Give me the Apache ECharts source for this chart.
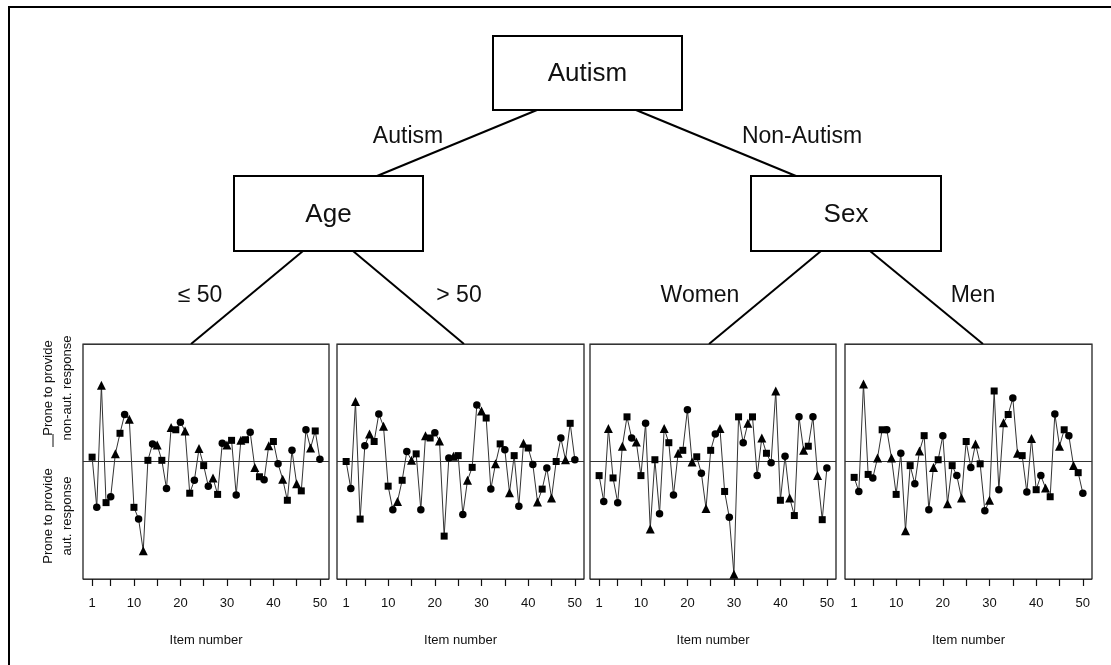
<!DOCTYPE html>
<html>
<head>
<meta charset="utf-8">
<script src="https://cdn.jsdelivr.net/npm/echarts@6/dist/echarts.min.js"></script>
<style>
html,body{margin:0;padding:0;background:#fff;}
#main{width:1111px;height:665px;}
</style>
</head>
<body>
<div id="main"></div>
<script>
// ---- data ----
const panelNames = ['≤ 50', '> 50', 'Women', 'Men'];
const treeNodes = ['Autism', 'Age', 'Sex'];
const branchLabels = ['Autism', 'Non-Autism'];
const tickValues = [1, 5, 10, 15, 20, 25, 30, 35, 40, 45, 50];
const tickLabels = [1, 10, 20, 30, 40, 50];
const axisTitle = 'Item number';
const yUpper = ['Prone to provide', 'non-aut. response'];
const yLower = ['Prone to provide', 'aut. response'];

const age50 = [0.37, -3.9, 6.5, -3.5, -3.0, 0.65, 2.4, 4.0, 3.6, -3.9,
  -4.9, -7.6, 0.1, 1.5, 1.4, 0.1, -2.3, 2.9, 2.7, 3.35,
  2.6, -2.7, -1.6, 1.1, -0.35, -2.1, -1.4, -2.8, 1.55, 1.4,
  1.8, -2.85, 1.8, 1.85, 2.5, -0.5, -1.3, -1.55, 1.35, 1.7,
  -0.2, -1.5, -3.3, 0.95, -1.9, -2.5, 2.7, 1.15, 2.6, 0.2];
const ageOver50 = [0.0, -2.3, 5.1, -4.9, 1.35, 2.35, 1.7, 4.05, 3.0, -2.1,
  -4.1, -3.4, -1.6, 0.85, 0.1, 0.65, -4.1, 2.2, 2.0, 2.45,
  1.75, -6.35, 0.3, 0.45, 0.5, -4.5, -1.6, -0.5, 4.8, 4.3,
  3.7, -2.35, -0.2, 1.5, 1.0, -2.65, 0.5, -3.8, 1.55, 1.15,
  -0.25, -3.45, -2.35, -0.55, -3.1, 0.0, 2.0, 0.15, 3.25, 0.15];
const women = [-1.2, -3.4, 2.8, -1.4, -3.5, 1.3, 3.8, 2.0, 1.65, -1.2,
  3.25, -5.75, 0.15, -4.45, 2.8, 1.6, -2.85, 0.7, 0.95, 4.4,
  -0.05, 0.4, -1.0, -4.0, 0.95, 2.35, 2.8, -2.55, -4.75, -9.6,
  3.8, 1.6, 3.25, 3.8, -1.2, 2.0, 0.7, -0.1, 6.0, -3.3,
  0.45, -3.1, -4.6, 3.8, 0.95, 1.3, 3.8, -1.2, -4.95, -0.55];
const men = [-1.35, -2.55, 6.6, -1.1, -1.4, 0.3, 2.7, 2.7, 0.3, -2.8,
  0.7, -5.9, -0.35, -1.9, 0.9, 2.2, -4.1, -0.5, 0.15, 2.2,
  -3.6, -0.35, -1.2, -3.1, 1.7, -0.5, 1.5, -0.2, -4.2, -3.3,
  6.0, -2.4, 3.3, 4.0, 5.4, 0.7, 0.5, -2.6, 1.95, -2.4,
  -1.2, -2.25, -3.0, 4.05, 1.3, 2.7, 2.2, -0.35, -0.95, -2.7];
const panelValues = [age50, ageOver50, women, men];

// ---- layout ----
const panelLeft = [83, 337, 590, 845];
const panelWidth = [246, 247, 246, 247];
const panelTop = 344, panelHeight = 235;
const shapeCycle = ['rect', 'circle', 'triangle'];
const sizeCycle = [7, 7.5, 9];
const FONT = '"Liberation Sans", Arial, Helvetica, sans-serif';

const grids = [], xAxes = [], yAxes = [], series = [];
panelValues.forEach((vals, k) => {
  grids.push({left: panelLeft[k], top: panelTop, width: panelWidth[k], height: panelHeight,
    show: true, borderColor: '#111', borderWidth: 1.2, backgroundColor: 'transparent', containLabel: false});
  xAxes.push({type: 'value', gridIndex: k, min: -0.96, max: 51.96, position: 'bottom',
    axisLine: {show: false, onZero: false},
    axisTick: {show: true, inside: false, length: 7, customValues: tickValues, lineStyle: {color: '#111', width: 1.2}},
    axisLabel: {show: true, customValues: tickLabels, margin: 18, color: '#111', fontSize: 13, fontFamily: FONT},
    splitLine: {show: false},
    name: axisTitle, nameLocation: 'middle', nameGap: 55,
    nameTextStyle: {color: '#111', fontSize: 13, fontFamily: FONT}});
  yAxes.push({type: 'value', gridIndex: k, min: -10, max: 10, interval: 10,
    axisLine: {show: false}, axisTick: {show: false}, axisLabel: {show: false},
    splitLine: {show: true, lineStyle: {color: '#333', width: 1.2}}});
  series.push({type: 'line', xAxisIndex: k, yAxisIndex: k,
    data: vals.map((v, i) => [i + 1, v]),
    symbol: (v, p) => shapeCycle[p.dataIndex % 3],
    symbolSize: (v, p) => sizeCycle[p.dataIndex % 3],
    showAllSymbol: true,
    lineStyle: {color: '#333', width: 1},
    itemStyle: {color: '#000', borderWidth: 0},
    emphasis: {disabled: true}, silent: true, animation: false});
});

// ---- tree diagram ----
const stroke = {stroke: '#000', lineWidth: 2};
const g = [];
g.push({type: 'rect', shape: {x: 9, y: 7, width: 1200, height: 800}, style: {fill: 'none', stroke: '#000', lineWidth: 2}});
const boxes = [[493, 36, 189, 74], [234, 176, 189, 75], [751, 176, 190, 75]];
boxes.forEach((b, i) => {
  g.push({type: 'rect', shape: {x: b[0], y: b[1], width: b[2], height: b[3]}, style: {fill: '#fff', stroke: '#000', lineWidth: 2}});
  g.push({type: 'text', x: b[0] + b[2] / 2, y: b[1] + b[3] / 2 + 1,
    style: {text: treeNodes[i], fontSize: 26, fontFamily: FONT, fill: '#111', align: 'center', verticalAlign: 'middle'}});
});
const links = [[537, 110, 377, 176], [636, 110, 796, 176],
  [303, 251, 191, 344], [353, 251, 464, 344], [821, 251, 709, 344], [870, 251, 983, 344]];
links.forEach(l => g.push({type: 'line', shape: {x1: l[0], y1: l[1], x2: l[2], y2: l[3]}, style: stroke}));
g.push({type: 'text', x: 408, y: 137, style: {text: branchLabels[0], fontSize: 23, fontFamily: FONT, fill: '#111', align: 'center', verticalAlign: 'middle'}});
g.push({type: 'text', x: 802, y: 137, style: {text: branchLabels[1], fontSize: 23, fontFamily: FONT, fill: '#111', align: 'center', verticalAlign: 'middle'}});
const pLabelX = [200, 459, 700, 973];
panelNames.forEach((n, i) => g.push({type: 'text', x: pLabelX[i], y: 296,
  style: {text: n, fontSize: 23, fontFamily: FONT, fill: '#111', align: 'center', verticalAlign: 'middle'}}));
// y-axis description
[[yUpper, 388], [yLower, 516]].forEach(([lines, cy]) => {
  lines.forEach((t, j) => g.push({type: 'text', x: j === 0 ? 48 : 67, y: cy, rotation: Math.PI / 2,
    style: {text: t, fontSize: 13, fontFamily: FONT, fill: '#111', align: 'center', verticalAlign: 'middle'}}));
});
g.push({type: 'line', shape: {x1: 53, y1: 434, x2: 53, y2: 447}, style: {stroke: '#111', lineWidth: 1}});

const chart = echarts.init(document.getElementById('main'), null, {renderer: 'canvas'});
chart.setOption({
  backgroundColor: '#fff',
  animation: false,
  grid: grids, xAxis: xAxes, yAxis: yAxes, series: series,
  graphic: {elements: g}
});
</script>
</body>
</html>
